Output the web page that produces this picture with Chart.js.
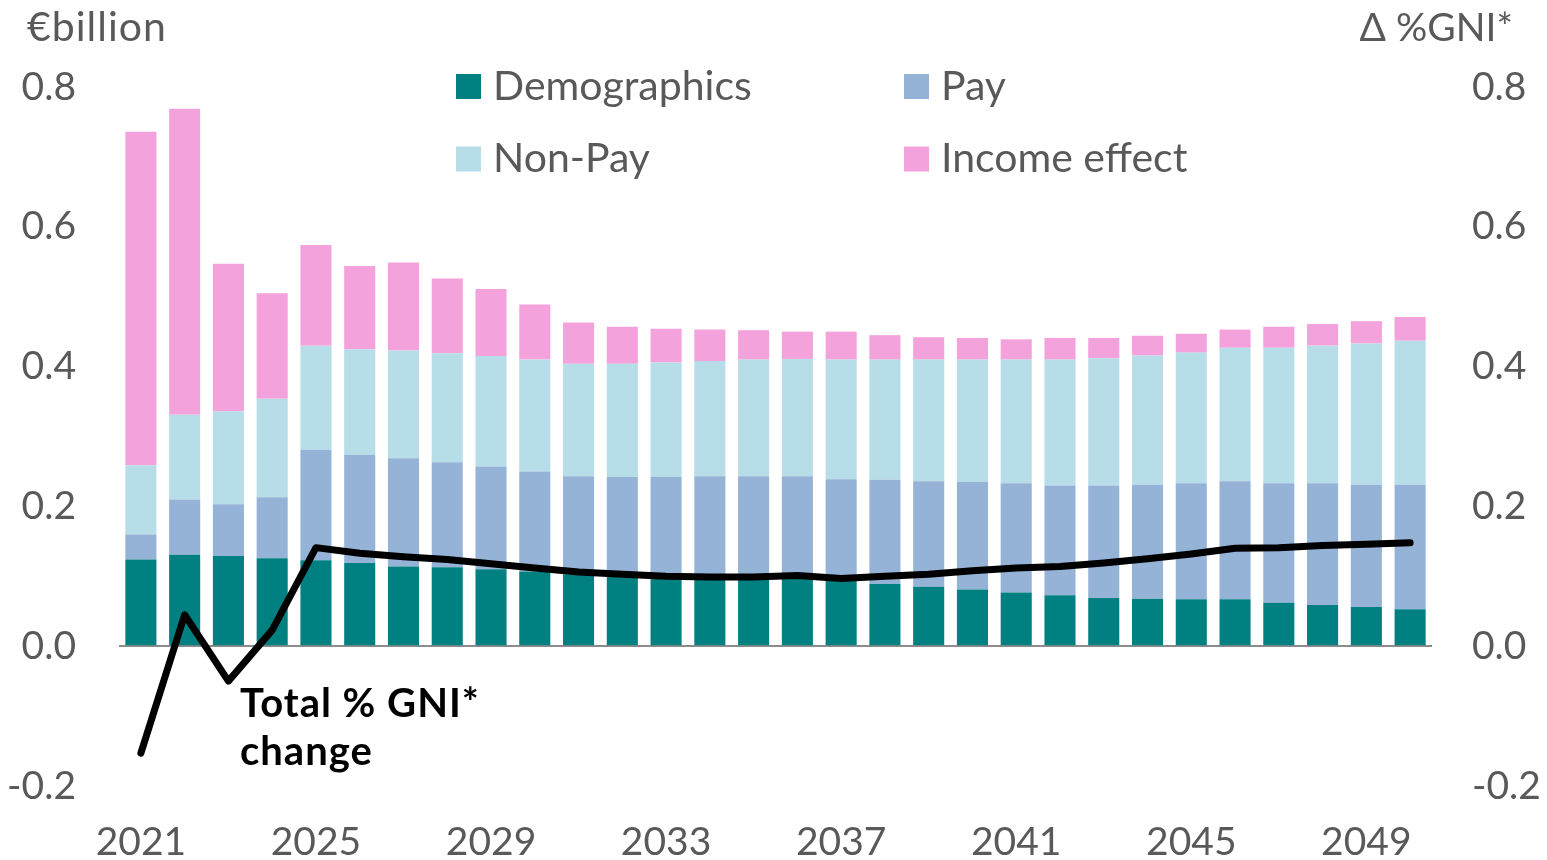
<!DOCTYPE html>
<html>
<head>
<meta charset="utf-8">
<script src="https://cdn.jsdelivr.net/npm/chart.js@4"></script>
<style>
html,body{margin:0;padding:0;background:#fff;overflow:hidden}
#wrap{position:relative;width:1547px;height:860px}
</style>
</head>
<body>
<div id="wrap"><canvas id="c" width="1547" height="860"></canvas></div>
<script>
const years = ['2021','2022','2023','2024','2025','2026','2027','2028','2029','2030',
               '2031','2032','2033','2034','2035','2036','2037','2038','2039','2040',
               '2041','2042','2043','2044','2045','2046','2047','2048','2049','2050'];
const demographics = [0.124,0.131,0.129,0.126,0.123,0.119,0.114,0.113,0.110,0.107,
                      0.103,0.100,0.098,0.097,0.097,0.097,0.094,0.089,0.085,0.081,
                      0.077,0.073,0.069,0.068,0.067,0.067,0.062,0.059,0.056,0.053];
const pay = [0.036,0.079,0.074,0.087,0.158,0.155,0.155,0.150,0.147,0.143,
             0.140,0.142,0.144,0.146,0.146,0.146,0.145,0.149,0.151,0.154,
             0.156,0.157,0.161,0.163,0.166,0.169,0.171,0.174,0.175,0.178];
const nonPay = [0.099,0.121,0.133,0.141,0.149,0.151,0.154,0.156,0.158,0.160,
                0.161,0.162,0.164,0.165,0.167,0.168,0.171,0.172,0.174,0.175,
                0.177,0.180,0.182,0.185,0.187,0.191,0.194,0.197,0.202,0.206];
const incomeEffect = [0.477,0.438,0.211,0.151,0.144,0.119,0.126,0.107,0.096,0.079,
                      0.059,0.053,0.048,0.045,0.042,0.039,0.040,0.035,0.032,0.031,
                      0.029,0.031,0.029,0.028,0.027,0.026,0.030,0.031,0.032,0.034];
const totalGNI = [-0.153,0.045,-0.050,0.023,0.141,0.133,0.128,0.124,0.118,0.112,
                  0.106,0.103,0.100,0.099,0.099,0.101,0.097,0.100,0.103,0.108,
                  0.112,0.114,0.119,0.125,0.132,0.140,0.141,0.144,0.146,0.148];
const seriesNames = ['Demographics','Pay','Non-Pay','Income effect'];
const seriesColors = ['#008080','#95b3d7','#b7dde8','#f4a2db'];
const lineName = ['Total % GNI*','change'];
const leftTitle = '€billion';
const rightTitle = 'Δ %GNI*';
const axisMin = -0.2, axisMax = 0.8, axisStep = 0.2;

const FONT = 'Lato, "Noto Sans", sans-serif';
const TXT = '#595959';

const textPlugin = {
  id: 'texts',
  afterDraw(chart) {
    const c = chart.ctx;
    c.save();
    c.font = '41px ' + FONT;
    c.fillStyle = TXT;
    c.textBaseline = 'middle';
    c.textAlign = 'left';
    try { c.letterSpacing = '1px'; } catch (e) {}
    c.fillText(leftTitle, 27, 28);
    try { c.letterSpacing = '0px'; } catch (e) {}
    c.font = '39px ' + FONT;
    c.textAlign = 'right';
    c.fillText(rightTitle, 1513, 28);
    // legend (2 x 2)
    c.font = '41px ' + FONT;
    const pos = [[456, 86.5], [904, 86.5], [456, 159], [904, 159]];
    c.textAlign = 'left';
    seriesNames.forEach((n, i) => {
      const [x, y] = pos[i];
      c.fillStyle = seriesColors[i];
      c.fillRect(x, y - 12.5, 25, 25);
      c.fillStyle = TXT;
      c.fillText(n, x + 37, y);
    });
    // line annotation
    c.fillStyle = '#000';
    c.font = 'bold 40px ' + FONT;
    try { c.letterSpacing = '1px'; } catch (e) {}
    c.fillText(lineName[0], 240, 704);
    c.fillText(lineName[1], 240, 752);
    c.restore();
  }
};

const tickFont = {family: FONT, size: 39};
const barDs = (i, data) => ({
  type: 'bar', label: seriesNames[i], data, backgroundColor: seriesColors[i],
  yAxisID: 'y', stack: 's', order: 1, barPercentage: 0.71, categoryPercentage: 1.0, borderWidth: 0
});

new Chart(document.getElementById('c'), {
  type: 'bar',
  data: {
    labels: years,
    datasets: [
      {type: 'line', label: lineName.join(' '), data: totalGNI, yAxisID: 'y2',
       borderColor: '#000', borderWidth: 7, pointRadius: 0, tension: 0,
       borderCapStyle: 'round', borderJoinStyle: 'round', order: 0, fill: false},
      barDs(0, demographics), barDs(1, pay), barDs(2, nonPay), barDs(3, incomeEffect)
    ]
  },
  options: {
    responsive: false, animation: false, devicePixelRatio: 1,
    layout: {padding: {top: 87, left: 0, right: 0, bottom: 0}},
    plugins: {legend: {display: false}, tooltip: {enabled: false}},
    scales: {
      x: {
        stacked: true,
        grid: {display: false, drawTicks: false}, border: {display: false},
        ticks: {autoSkip: false, maxRotation: 0, minRotation: 0, font: tickFont, color: TXT, padding: 33,
                callback: (v, i) => (i % 4 === 0 ? years[i] : '')},
        afterFit: s => { s.height = 74; }
      },
      y: {
        stacked: true, min: axisMin, max: axisMax, position: 'left',
        ticks: {stepSize: axisStep, font: tickFont, color: TXT, padding: 43, callback: v => Number(v).toFixed(1)},
        grid: {drawTicks: false, lineWidth: 2, color: ctx => (ctx.tick && Math.abs(ctx.tick.value) < 1e-9 ? '#8c8c8c' : 'rgba(0,0,0,0)')},
        border: {display: false},
        afterFit: s => { s.width = 119; }
      },
      y2: {
        min: axisMin, max: axisMax, position: 'right',
        ticks: {stepSize: axisStep, font: tickFont, color: TXT, padding: 40, callback: v => Number(v).toFixed(1)},
        grid: {display: false, drawTicks: false}, border: {display: false},
        afterFit: s => { s.width = 115; }
      }
    }
  },
  plugins: [textPlugin]
});
</script>
</body>
</html>
